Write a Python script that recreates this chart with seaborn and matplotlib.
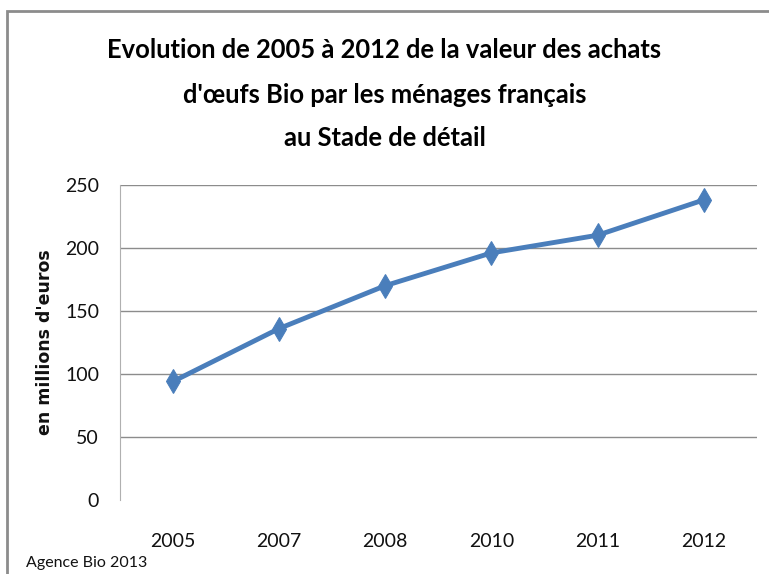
import seaborn as sns
import matplotlib.pyplot as plt
import pandas as pd
from matplotlib.patches import Rectangle

# data
annees = ['2005', '2007', '2008', '2010', '2011', '2012']
valeurs = [94, 136, 170, 196, 210, 238]

df = pd.DataFrame({'annee': annees, 'valeur': valeurs})

sns.set_style('white')
plt.rcParams['font.family'] = ['Lato', 'DejaVu Sans']

fig = plt.figure(figsize=(7.69, 5.74), dpi=100)
ax = fig.add_axes([0.156, 0.129, 0.828, 0.549])

sns.lineplot(x='annee', y='valeur', data=df, ax=ax, color='#4a7ebb',
             linewidth=3.5, marker='d', markersize=12, markeredgecolor='#4a7ebb')

ax.set_xlim(-0.5, 5.5)
ax.set_ylim(0, 250)
ax.set_yticks(range(0, 251, 50))
ax.yaxis.grid(True, color='#8c8c8c', linewidth=1)
ax.get_ygridlines()[0].set_visible(False)
ax.set_axisbelow(True)
for s in ['top', 'right', 'bottom']:
    ax.spines[s].set_visible(False)
ax.spines['left'].set_color('#b0b0b0')
ax.tick_params(axis='both', length=0, labelsize=14, colors='#111111')
ax.tick_params(axis='y', pad=15)
ax.tick_params(axis='x', pad=24)
ax.set_xlabel('')
ax.set_ylabel("en millions d'euros", family='DejaVu Sans', fontweight='bold',
              fontsize=12.5, color='#111111')
ax.yaxis.set_label_coords(-0.104, 0.5)

titre = ["Evolution de 2005 à 2012 de la valeur des achats",
         "d'œufs Bio par les ménages français",
         "au Stade de détail"]
for ligne, yy in zip(titre, [0.913, 0.835, 0.76]):
    fig.text(0.5, yy, ligne, ha='center', va='center', fontsize=18.4,
             fontweight='bold', color='black')

fig.text(0.034, 0.012, "Agence Bio 2013", fontsize=11.5, color='#111111')

# frame around the chart (cut off at right and bottom)
fig.patches.append(Rectangle((7 / 769, -0.1), 1.2, 1.1 - 11 / 574,
                             transform=fig.transFigure, fill=False,
                             edgecolor='#8c8c8c', linewidth=2))

fig.savefig('out.png', dpi=100)
